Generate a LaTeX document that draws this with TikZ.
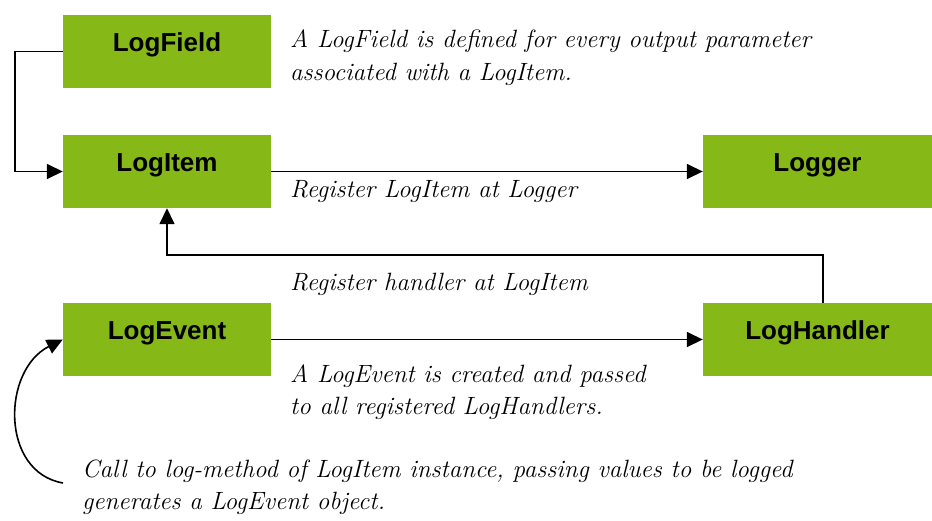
\documentclass[tikz,border=0pt]{standalone}
\usepackage{fontspec}
\setsansfont{Liberation Sans}
\usetikzlibrary{arrows.meta}
\definecolor{boxgreen}{RGB}{134,184,24}
\begin{document}
\begin{tikzpicture}[x=1pt,y=-1pt,
  classbox/.style={fill=boxgreen, minimum width=208pt, minimum height=73pt,
    inner sep=0pt, text height=19pt, text depth=19pt,
    font=\sffamily\bfseries\fontsize{26}{30}\selectfont},
  note/.style={anchor=base west, inner sep=0pt,
    font=\itshape\fontsize{25}{32}\selectfont},
  link/.style={draw=black, line width=1.6pt, -{Triangle[length=16pt,width=15pt]}},
]
\useasboundingbox (0,0) rectangle (932,520);

% classes
\node[classbox] (field)   at (167,51.5)  {LogField};
\node[classbox] (item)    at (167,171.5) {LogItem};
\node[classbox, minimum width=229pt] (logger)  at (817.5,171.5) {Logger};
\node[classbox] (event)   at (167,339.5) {LogEvent};
\node[classbox, minimum width=229pt] (handler) at (817.5,339.5) {LogHandler};

% corner and bend points
\coordinate (fieldbend) at (15,51.5);
\coordinate (hbend) at (823,255);

% connectors
\draw[link] (field.west) -- (fieldbend) |- (item.west);
\draw[link] (item.east) -- (logger.west);
\draw[link] (handler.north -| hbend) |- (hbend -| item.south) -- (item.south);
\draw[link] (event.east) -- (handler.west);
\coordinate (callstart) at (63,483);
\draw[link] (callstart) .. controls (0,472) and (2,370) .. (event.west);

% notes
\node[note] (n1) at (290,47) {A LogField is defined for every output parameter};
\node[note] (n2) at (290,80) {associated with a LogItem.};
\node[note] (n3) at (290,197) {Register LogItem at Logger};
\node[note] (n4) at (290,290) {Register handler at LogItem};
\node[note] (n5) at (290,382) {A LogEvent is created and passed};
\node[note] (n6) at (290,414) {to all registered LogHandlers.};
\node[note] (n7) at (82,477) {Call to log-method of LogItem instance, passing values to be logged};
\node[note] (n8) at (82,509) {generates a LogEvent object.};
\end{tikzpicture}
\end{document}
